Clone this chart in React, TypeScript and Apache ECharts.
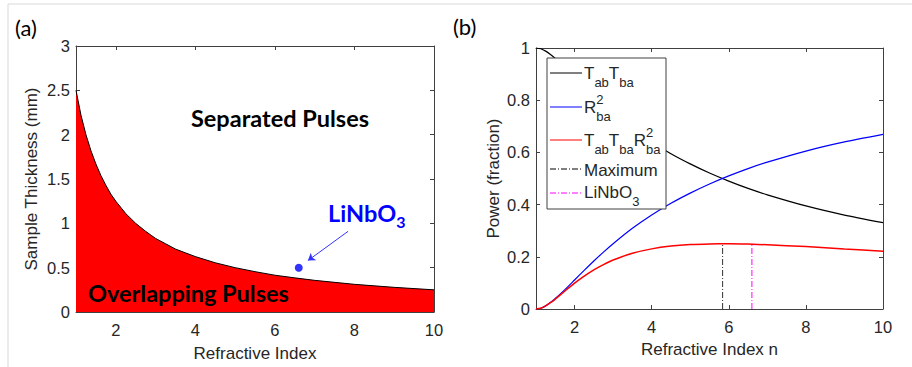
import React, { useEffect, useRef } from "react";
import * as echarts from "echarts";

// Panel (a): boundary between overlapping and separated pulses
const nLeft = [1, 1.125, 1.25, 1.375, 1.5, 1.625, 1.75, 1.875, 2, 2.125, 2.25, 2.5, 2.75, 3, 3.25, 3.5, 3.75, 4, 4.5, 5, 5.5, 6, 6.5, 7, 8, 9, 10];
const thickness = [2.5, 2.22, 2.0, 1.82, 1.67, 1.54, 1.43, 1.33, 1.25, 1.18, 1.11, 1.0, 0.91, 0.83, 0.77, 0.71, 0.667, 0.625, 0.555, 0.5, 0.455, 0.415, 0.385, 0.357, 0.312, 0.278, 0.25];
const liNbO3Point = [6.6, 0.5];

// Panel (b): power fractions
const nRight = [1, 1.125, 1.25, 1.375, 1.5, 1.75, 2, 2.25, 2.5, 2.75, 3, 3.5, 4, 4.5, 5, 5.5, 6, 6.5, 7, 8, 9, 10];
const tabTba = [1, 0.997, 0.988, 0.975, 0.96, 0.926, 0.889, 0.852, 0.816, 0.782, 0.75, 0.691, 0.64, 0.595, 0.556, 0.521, 0.49, 0.462, 0.4375, 0.395, 0.36, 0.331];
const rba2 = [0, 0.003, 0.012, 0.025, 0.04, 0.074, 0.111, 0.148, 0.184, 0.218, 0.25, 0.309, 0.36, 0.405, 0.444, 0.479, 0.51, 0.538, 0.5625, 0.605, 0.64, 0.669];
const product = [0, 0.003, 0.012, 0.024, 0.038, 0.069, 0.099, 0.126, 0.15, 0.17, 0.1875, 0.2135, 0.2304, 0.241, 0.247, 0.2495, 0.2499, 0.2486, 0.246, 0.239, 0.23, 0.2215];
const maximumN = 5.84;
const maximumP = 0.25;
const liNbO3N = 6.6;
const liNbO3P = 0.245;

const xTicks = [2, 4, 6, 8, 10];

const FONT = '"Liberation Sans", Arial, sans-serif';
const BOLD_FONT = 'Lato, "Open Sans", sans-serif';
const LABEL = "#262626";
const AXIS = "#404040";

let ctx: CanvasRenderingContext2D | null = null;
function measure(t: string, size: number, family = FONT, weight = "normal") {
  if (!ctx) ctx = document.createElement("canvas").getContext("2d");
  if (!ctx) return t.length * size * 0.55;
  ctx.font = `${weight} ${size}px ${family}`;
  return ctx.measureText(t).width;
}

type Part = { t: string; kind: "main" | "sub" | "sup" | "supsub"; t2?: string };

function textRun(x0: number, yc: number, parts: Part[], color: string, mainSize = 17, small = 13, family = FONT, weight = "normal", subDy = 9, supDy = -8) {
  const els: any[] = [];
  let x = x0;
  const mk = (t: string, x: number, y: number, size: number) => ({
    type: "text",
    x,
    y,
    z: 100,
    silent: true,
    style: { text: t, fill: color, font: `${weight} ${size}px ${family}`, textVerticalAlign: "middle", textAlign: "left" },
  });
  for (const p of parts) {
    if (p.kind === "main") {
      els.push(mk(p.t, x, yc, mainSize));
      x += measure(p.t, mainSize, family, weight);
    } else if (p.kind === "sub") {
      els.push(mk(p.t, x, yc + subDy, small));
      x += measure(p.t, small, family, weight);
    } else if (p.kind === "sup") {
      els.push(mk(p.t, x, yc + supDy, small));
      x += measure(p.t, small, family, weight);
    } else {
      els.push(mk(p.t, x, yc + supDy, small));
      els.push(mk(p.t2 || "", x, yc + subDy, small));
      x += Math.max(measure(p.t, small, family, weight), measure(p.t2 || "", small, family, weight));
    }
  }
  return els;
}

function legendLine(x1: number, x2: number, y: number, color: string, dash?: number[]) {
  return {
    type: "line",
    silent: true,
    z: 100,
    shape: { x1, y1: y, x2, y2: y },
    style: { stroke: color, lineWidth: 1, lineDash: dash },
  };
}

const dashDot = [6, 2, 1, 2];

function axisPair(gridIndex: number) {
  return [
    {
      type: "value",
      gridIndex,
      min: 1,
      max: 10,
      position: "bottom",
      axisLine: { show: true, onZero: false, lineStyle: { color: AXIS, width: 1 } },
      axisTick: { show: true, inside: true, length: 4, customValues: xTicks, lineStyle: { color: AXIS } },
      axisLabel: { customValues: xTicks, color: LABEL, fontFamily: FONT, fontSize: 16.5, margin: 9 },
      splitLine: { show: false },
      nameLocation: "middle",
      nameTextStyle: { color: LABEL, fontFamily: FONT, fontSize: 17 },
    },
    {
      type: "value",
      gridIndex,
      min: 1,
      max: 10,
      position: "top",
      axisLine: { show: true, onZero: false, lineStyle: { color: AXIS, width: 1 } },
      axisTick: { show: true, inside: true, length: 4, customValues: xTicks, lineStyle: { color: AXIS } },
      axisLabel: { show: false, customValues: xTicks },
      splitLine: { show: false },
    },
  ];
}

function yPair(gridIndex: number, max: number, interval: number, name: string, nameGap: number) {
  return [
    {
      type: "value",
      gridIndex,
      min: 0,
      max,
      interval,
      position: "left",
      name,
      nameLocation: "middle",
      nameGap,
      nameTextStyle: { color: LABEL, fontFamily: FONT, fontSize: 17 },
      axisLine: { show: true, onZero: false, lineStyle: { color: AXIS, width: 1 } },
      axisTick: { show: true, inside: true, length: 4, lineStyle: { color: AXIS } },
      axisLabel: { color: LABEL, fontFamily: FONT, fontSize: 16.5, margin: 6 },
      splitLine: { show: false },
    },
    {
      type: "value",
      gridIndex,
      min: 0,
      max,
      interval,
      position: "right",
      axisLine: { show: true, onZero: false, lineStyle: { color: AXIS, width: 1 } },
      axisTick: { show: true, inside: true, length: 4, lineStyle: { color: AXIS } },
      axisLabel: { show: false },
      splitLine: { show: false },
    },
  ];
}

export default function App() {
  const ref = useRef<HTMLDivElement>(null);
  useEffect(() => {
    if (!ref.current) return;
    const chart = echarts.init(ref.current, undefined, { renderer: "svg" });

    const xa = axisPair(0);
    (xa[0] as any).name = "Refractive Index";
    (xa[0] as any).nameGap = 33;
    const xb = axisPair(1);
    (xb[0] as any).name = "Refractive Index n";
    (xb[0] as any).nameGap = 32;

    const zip = (xs: number[], ys: number[]) => xs.map((x, i) => [x, ys[i]]);

    const legendX = 547;
    const legendEls: any[] = [
      {
        type: "rect",
        z: 99,
        shape: { x: legendX, y: 58, width: 119, height: 151 },
        style: { fill: "#ffffff", stroke: AXIS, lineWidth: 1 },
        silent: true,
      },
      legendLine(550, 582, 73, "#000000"),
      ...textRun(584, 73, [
        { t: "T", kind: "main" },
        { t: "ab", kind: "sub" },
        { t: "T", kind: "main" },
        { t: "ba", kind: "sub" },
      ], LABEL),
      legendLine(550, 582, 107, "#0000ff"),
      ...textRun(584, 107, [
        { t: "R", kind: "main" },
        { t: "2", kind: "supsub", t2: "ba" },
      ], LABEL),
      legendLine(550, 582, 140, "#ff0000"),
      ...textRun(584, 140, [
        { t: "T", kind: "main" },
        { t: "ab", kind: "sub" },
        { t: "T", kind: "main" },
        { t: "ba", kind: "sub" },
        { t: "R", kind: "main" },
        { t: "2", kind: "supsub", t2: "ba" },
      ], LABEL),
      legendLine(550, 582, 169, "#000000", dashDot),
      ...textRun(584, 170, [{ t: "Maximum", kind: "main" }], LABEL),
      legendLine(550, 582, 193, "#ff00ff", dashDot),
      ...textRun(584, 192, [
        { t: "LiNbO", kind: "main" },
        { t: "3", kind: "sub" },
      ], LABEL),
    ];

    const curve = (data: number[], color: string, width: number) => ({
      type: "line",
      xAxisIndex: 2,
      yAxisIndex: 2,
      data: zip(nRight, data),
      smooth: 0.2,
      showSymbol: false,
      lineStyle: { color, width },
    });

    const option: any = {
      animation: false,
      backgroundColor: "#ffffff",
      grid: [
        { left: 76, right: 478, top: 46, bottom: 52 },
        { left: 536, right: 29, top: 48, bottom: 58 },
      ],
      xAxis: [...xa, ...xb],
      yAxis: [
        ...yPair(0, 3, 0.5, "Sample Thickness (mm)", 36),
        ...yPair(1, 1, 0.2, "Power (fraction)", 34),
      ],
      series: [
        {
          type: "line",
          xAxisIndex: 0,
          yAxisIndex: 0,
          data: zip(nLeft, thickness),
          smooth: false,
          showSymbol: false,
          lineStyle: { color: "#000000", width: 1 },
          areaStyle: { color: "#ff0000", opacity: 1 },
          z: 2,
        },
        {
          type: "scatter",
          xAxisIndex: 0,
          yAxisIndex: 0,
          data: [liNbO3Point],
          symbolSize: 8,
          itemStyle: { color: "#0000ff" },
          z: 5,
        },
        {
          type: "lines",
          coordinateSystem: "cartesian2d",
          xAxisIndex: 0,
          yAxisIndex: 0,
          symbol: ["none", "arrow"],
          symbolSize: 7,
          lineStyle: { color: "#3333ff", width: 1, opacity: 1 },
          data: [{ coords: [[7.84, 0.91], [6.83, 0.58]] }],
          z: 5,
        },
        curve(tabTba, "#000000", 1.2),
        curve(rba2, "#0000ff", 1.2),
        curve(product, "#ff0000", 1.5),
        {
          type: "line",
          xAxisIndex: 2,
          yAxisIndex: 2,
          data: [[maximumN, 0], [maximumN, maximumP]],
          showSymbol: false,
          lineStyle: { color: "#333333", width: 1, type: dashDot },
        },
        {
          type: "line",
          xAxisIndex: 2,
          yAxisIndex: 2,
          data: [[liNbO3N, 0], [liNbO3N, liNbO3P]],
          showSymbol: false,
          lineStyle: { color: "#ff00ff", width: 1, type: dashDot },
        },
      ],
      graphic: [
        { type: "line", z: 100, silent: true, shape: { x1: 8, y1: 4, x2: 912, y2: 4 }, style: { stroke: "#d9d9d9", lineWidth: 1 } },
        { type: "line", z: 100, silent: true, shape: { x1: 8, y1: 4, x2: 8, y2: 367 }, style: { stroke: "#d9d9d9", lineWidth: 1 } },
        { type: "text", z: 100, x: 15, y: 27, silent: true, style: { text: "(a)", fill: "#000", font: `22px ${BOLD_FONT}`, textVerticalAlign: "middle" } },
        { type: "text", z: 100, x: 453, y: 26, silent: true, style: { text: "(b)", fill: "#000", font: `22px ${BOLD_FONT}`, textVerticalAlign: "middle" } },
        { type: "text", z: 100, x: 280, y: 118, silent: true, style: { text: "Separated Pulses", fill: "#000", font: `bold 23.5px ${BOLD_FONT}`, textAlign: "center", textVerticalAlign: "middle" } },
        { type: "text", z: 100, x: 88, y: 293, silent: true, style: { text: "Overlapping Pulses", fill: "#000", font: `bold 23.5px ${BOLD_FONT}`, textAlign: "left", textVerticalAlign: "middle" } },
        ...textRun(328, 213, [
          { t: "LiNbO", kind: "main" },
          { t: "3", kind: "sub" },
        ], "#0000ff", 23.5, 16, BOLD_FONT, "bold", 8, -8),
        ...legendEls,
      ],
    };
    chart.setOption(option);
    return () => chart.dispose();
  }, []);
  return <div ref={ref} style={{ position: "fixed", left: 0, top: 0, width: 912, height: 367 }} />;
}
